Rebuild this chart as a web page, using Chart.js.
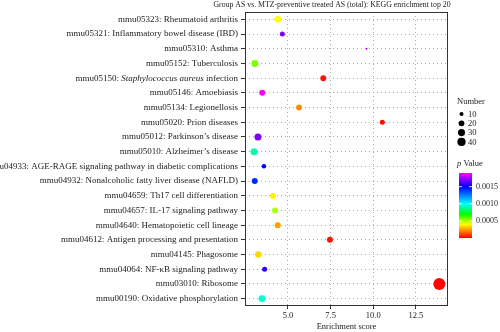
<!DOCTYPE html>
<html>
<head>
<meta charset="utf-8">
<script src="https://cdn.jsdelivr.net/npm/chart.js@4"></script>
<style>
  html, body { margin: 0; padding: 0; background: #fff; }
  #wrap { width: 500px; height: 332px; position: relative; }
</style>
</head>
<body>
<div id="wrap"><canvas id="chart"></canvas></div>
<script>
"use strict";

// パスウェイ名 (上から順に) ・ *...* はイタリック
const pathways = [
  "mmu05323: Rheumatoid arthritis",
  "mmu05321: Inflammatory bowel disease (IBD)",
  "mmu05310: Asthma",
  "mmu05152: Tuberculosis",
  "mmu05150: *Staphylococcus aureus* infection",
  "mmu05146: Amoebiasis",
  "mmu05134: Legionellosis",
  "mmu05020: Prion diseases",
  "mmu05012: Parkinson\u2019s disease",
  "mmu05010: Alzheimer\u2019s disease",
  "mmu04933: AGE-RAGE signaling pathway in diabetic complications",
  "mmu04932: Nonalcoholic fatty liver disease (NAFLD)",
  "mmu04659: Th17 cell differentiation",
  "mmu04657: IL-17 signaling pathway",
  "mmu04640: Hematopoietic cell lineage",
  "mmu04612: Antigen processing and presentation",
  "mmu04145: Phagosome",
  "mmu04064: NF-\u03baB signaling pathway",
  "mmu03010: Ribosome",
  "mmu00190: Oxidative phosphorylation"
];

const enrichScores = [4.40, 4.67, 9.61, 3.06, 7.07, 3.49, 5.65, 10.53, 3.24, 3.01,
                      3.59, 3.05, 4.12, 4.24, 4.40, 7.46, 3.26, 3.63, 13.87, 3.47];
const geneCounts   = [26, 15, 2, 29, 21, 21, 21, 15, 29, 29,
                      12, 21, 21, 21, 21, 21, 26, 15, 85, 26];
const pValues      = [0.00040, 0.00170, 0.00180, 0.00055, 0.00003, 0.00190, 0.00022, 0.00002, 0.00170, 0.00090,
                      0.00150, 0.00142, 0.00038, 0.00050, 0.00025, 0.00003, 0.00034, 0.00158, 0.00001, 0.00095];

const xTickValues = [5.0, 7.5, 10.0, 12.5];
const sizeLegend = [10, 20, 30, 40];
const pTickValues = [0.0005, 0.0010, 0.0015];

const P_MAX = 0.0019;
// カラーバーの色 (p値 → 色)
const colorStops = [
  [0.0000, [255, 0, 0]],
  [0.0002, [255, 128, 0]],
  [0.0004, [255, 255, 0]],
  [0.0007, [0, 255, 0]],
  [0.0010, [0, 255, 255]],
  [0.0015, [0, 0, 255]],
  [0.0019, [255, 0, 255]]
];

const FONT = "'Liberation Serif', 'DejaVu Serif', serif";
const TEXT = "#222";
const LABEL_SIZE = 9;

function pColor(p) {
  for (let i = 1; i < colorStops.length; i++) {
    const [p1, c1] = colorStops[i];
    const [p0, c0] = colorStops[i - 1];
    if (p <= p1 || i === colorStops.length - 1) {
      const t = Math.max(0, Math.min(1, (p - p0) / (p1 - p0)));
      const c = c0.map((v, k) => Math.round(v + (c1[k] - v) * t));
      return `rgb(${c[0]},${c[1]},${c[2]})`;
    }
  }
}

function sizeRadius(n) {
  return 0.65 * Math.sqrt(n);
}

// イタリック混じりのラベルを右寄せで描く
function drawRichText(ctx, text, xRight, y, size) {
  const parts = text.split("*");
  const fonts = parts.map((_, i) => (i % 2 ? "italic " : "") + size + "px " + FONT);
  let total = 0;
  const widths = parts.map((s, i) => { ctx.font = fonts[i]; const w = ctx.measureText(s).width; total += w; return w; });
  let x = xRight - total;
  parts.forEach((s, i) => {
    ctx.font = fonts[i];
    ctx.fillText(s, x, y);
    x += widths[i];
  });
}

const extrasPlugin = {
  id: "extras",
  afterDraw(chart) {
    const ctx = chart.ctx;
    const area = chart.chartArea;
    const yScale = chart.scales.y;
    ctx.save();

    // 枠線
    ctx.strokeStyle = "#333";
    ctx.lineWidth = 1;
    ctx.strokeRect(area.left + 0.5, area.top + 0.5, area.right - area.left - 1, area.bottom - area.top - 1);

    // タイトル
    ctx.fillStyle = TEXT;
    ctx.textBaseline = "middle";
    ctx.textAlign = "center";
    ctx.font = "7.8px " + FONT;
    ctx.fillText("Group AS vs. MTZ-preventive treated AS (total): KEGG enrichment top 20", 332, 5);

    // y軸ラベル
    ctx.textAlign = "left";
    pathways.forEach((name, i) => {
      drawRichText(ctx, name, area.left - 7, yScale.getPixelForTick(i), LABEL_SIZE);
    });

    // 凡例: Number
    ctx.font = "8.5px " + FONT;
    ctx.fillText("Number", 457, 102);
    sizeLegend.forEach((n, i) => {
      const cy = 114 + i * 9.3;
      ctx.beginPath();
      ctx.arc(461.5, cy, sizeRadius(n), 0, Math.PI * 2);
      ctx.fillStyle = "#000";
      ctx.fill();
      ctx.fillStyle = TEXT;
      ctx.fillText(String(n), 468, cy + 0.5);
    });

    // 凡例: p Value
    ctx.font = "italic 8.5px " + FONT;
    ctx.fillText("p", 457, 164);
    const pw = ctx.measureText("p ").width;
    ctx.font = "8.5px " + FONT;
    ctx.fillText("Value", 457 + pw, 164);

    const barTop = 173, barBottom = 238, barLeft = 459, barW = 13;
    const grad = ctx.createLinearGradient(0, barBottom, 0, barTop);
    colorStops.forEach(([p, c]) => {
      grad.addColorStop(p / P_MAX, `rgb(${c[0]},${c[1]},${c[2]})`);
    });
    ctx.fillStyle = grad;
    ctx.fillRect(barLeft, barTop, barW, barBottom - barTop);
    ctx.font = "8px " + FONT;
    pTickValues.forEach(p => {
      const py = barBottom - (p / P_MAX) * (barBottom - barTop);
      ctx.strokeStyle = "rgba(255,255,255,0.9)";
      ctx.beginPath();
      ctx.moveTo(barLeft, py); ctx.lineTo(barLeft + 3, py);
      ctx.moveTo(barLeft + barW - 3, py); ctx.lineTo(barLeft + barW, py);
      ctx.stroke();
      ctx.fillStyle = TEXT;
      ctx.fillText(p.toFixed(4), 476, py);
    });

    ctx.restore();
  }
};

const points = pathways.map((name, i) => ({ x: enrichScores[i], y: name }));

new Chart(document.getElementById("chart"), {
  type: "scatter",
  data: {
    datasets: [{
      data: points,
      pointRadius: geneCounts.map(sizeRadius),
      pointHoverRadius: geneCounts.map(sizeRadius),
      pointBackgroundColor: pValues.map(pColor),
      pointBorderWidth: 0,
      borderWidth: 0
    }]
  },
  options: {
    responsive: true,
    maintainAspectRatio: false,
    animation: false,
    layout: { padding: { left: 0, right: 52, top: 12, bottom: 0 } },
    plugins: { legend: { display: false }, tooltip: { enabled: false } },
    scales: {
      x: {
        type: "linear",
        min: 2.48,
        max: 14.38,
        afterBuildTicks: scale => { scale.ticks = xTickValues.map(v => ({ value: v })); },
        afterFit: scale => { scale.height = 26; },
        ticks: {
          callback: v => Number(v).toFixed(1),
          font: { family: FONT, size: 8.5 },
          color: TEXT,
          padding: 2,
          maxRotation: 0
        },
        grid: {
          color: "#aaa",
          lineWidth: 1,
          tickLength: 3,
          tickColor: "#333",
          tickBorderDash: []
        },
        border: { display: false, dash: [1, 3] },
        title: {
          display: true,
          text: "Enrichment score",
          font: { family: FONT, size: 8.5 },
          color: TEXT,
          padding: 0
        }
      },
      y: {
        type: "category",
        labels: pathways,
        offset: true,
        afterFit: scale => { scale.width = 245; },
        ticks: { display: false },
        grid: {
          offset: false,
          color: "#aaa",
          lineWidth: 1,
          tickLength: 4,
          tickColor: "#333",
          tickBorderDash: []
        },
        border: { display: false, dash: [1, 3] }
      }
    }
  },
  plugins: [extrasPlugin]
});
</script>
</body>
</html>
